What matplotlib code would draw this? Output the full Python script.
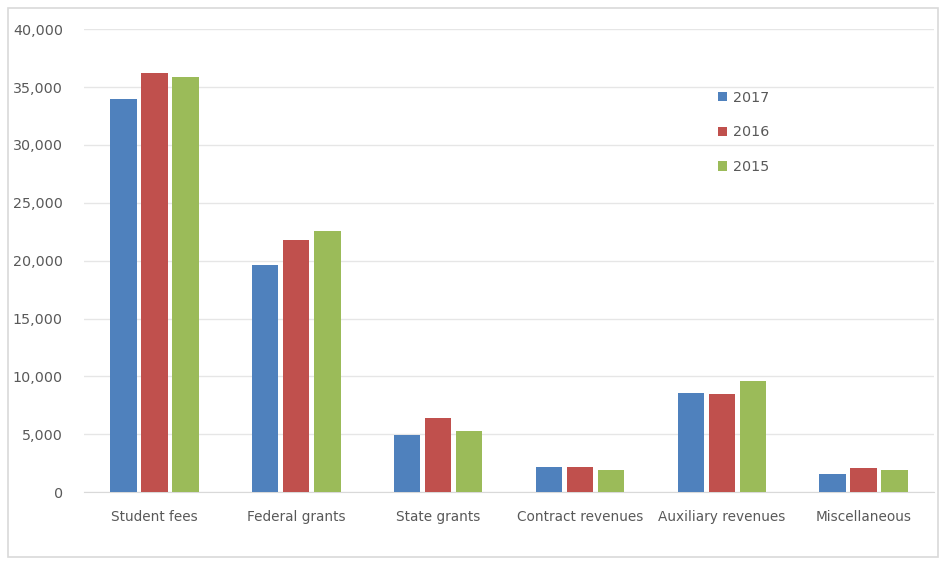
import matplotlib.pyplot as plt
import matplotlib.patches as patches
import numpy as np

categories = ['Student fees', 'Federal grants', 'State grants', 'Contract revenues',
              'Auxiliary revenues', 'Miscellaneous']
years = ['2017', '2016', '2015']
vals_2017 = [34000, 19600, 4900, 2200, 8600, 1600]
vals_2016 = [36200, 21800, 6400, 2200, 8450, 2050]
vals_2015 = [35850, 22550, 5300, 1900, 9600, 1900]
colors = ['#4F81BD', '#C0504D', '#9BBB59']

plt.rcParams['font.family'] = 'DejaVu Sans'
text_color = '#595959'

fig = plt.figure(figsize=(9.4, 5.63), dpi=100)
ax = fig.add_axes([0.089, 0.126, 0.905, 0.822])

x = np.arange(len(categories))
width = 0.185
step = 0.219
for i, (vals, yr) in enumerate(zip([vals_2017, vals_2016, vals_2015], years)):
    ax.bar(x + (i - 1) * step, vals, width, color=colors[i], label=yr, zorder=3)

ax.set_xlim(-0.5, len(categories) - 0.5)
ax.set_ylim(0, 40000)
ax.set_yticks(np.arange(0, 40001, 5000))
ax.set_yticklabels([f'{v:,}' for v in range(0, 40001, 5000)])
ax.set_xticks(x)
ax.set_xticklabels(categories)
ax.tick_params(axis='both', length=0, colors=text_color)
ax.tick_params(axis='y', pad=15, labelsize=10.3)
ax.tick_params(axis='x', pad=13, labelsize=9.8)
ax.grid(axis='y', color='#e6e6e6', linewidth=1, zorder=0)
for s in ['top', 'right', 'left']:
    ax.spines[s].set_visible(False)
ax.spines['bottom'].set_color('#d9d9d9')

leg = ax.legend(loc='upper left', bbox_to_anchor=(0.73, 0.895), frameon=False,
                fontsize=10.3, handlelength=0.65, handleheight=0.65, labelspacing=1.45,
                handletextpad=0.45)
for t in leg.get_texts():
    t.set_color(text_color)

# outer chart border
fig.patches.append(patches.Rectangle((8 / 940, 1 - 557 / 563), 930 / 940, 549 / 563,
                                     transform=fig.transFigure, fill=False,
                                     edgecolor='#d9d9d9', linewidth=1.2))

fig.savefig('out.png', dpi=100)
